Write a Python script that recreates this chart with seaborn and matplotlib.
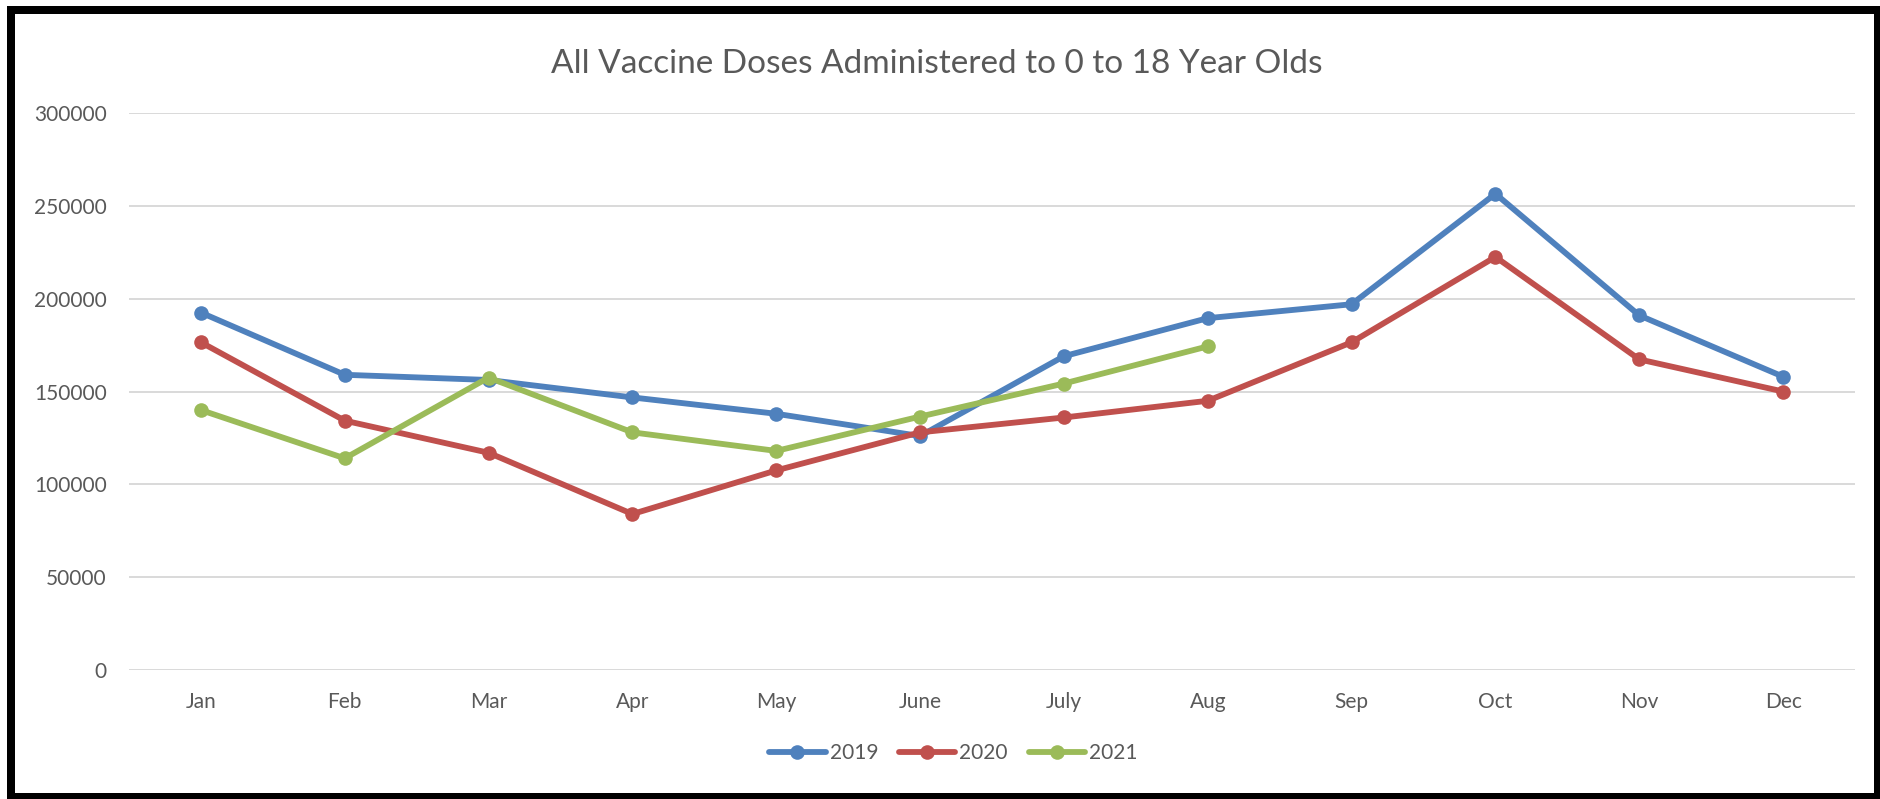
import numpy as np
import pandas as pd
import matplotlib
matplotlib.use("Agg")
import matplotlib.pyplot as plt
from matplotlib.patches import Rectangle
import seaborn as sns

months = ["Jan", "Feb", "Mar", "Apr", "May", "June", "July", "Aug", "Sep", "Oct", "Nov", "Dec"]
doses_2019 = [192500, 159000, 156200, 146800, 138000, 126000, 169000, 189500, 197000, 256500, 191000, 158000]
doses_2020 = [176500, 134300, 117000, 84000, 107500, 128000, 136000, 145000, 176500, 222500, 167300, 150000]
doses_2021 = [140000, 114000, 157500, 128000, 118000, 136500, 154300, 174300]
years = ["2019", "2020", "2021"]
colors = ["#4F81BD", "#C0504D", "#9BBB59"]

rows = []
for yr, vals in zip(years, [doses_2019, doses_2020, doses_2021]):
    for m, v in zip(months, vals):
        rows.append({"month": m, "doses": v, "year": yr})
df = pd.DataFrame(rows)

sns.set_theme(style="white")
plt.rcParams["font.family"] = ["Lato", "DejaVu Sans"]
text_color = "#595959"
lw = 4.2
ms = 10.5

fig = plt.figure(figsize=(18.8, 7.99), dpi=100)
ax = fig.add_axes([129 / 1880, 1 - 670 / 799, (1855 - 129) / 1880, (670 - 113) / 799])

sns.lineplot(data=df, x="month", y="doses", hue="year", palette=colors,
             marker="o", markersize=ms, markeredgewidth=0, linewidth=lw,
             sort=False, ax=ax, legend=False)

ax.set_xlim(-0.5, len(months) - 0.5)
ax.set_ylim(0, 300000)
ax.set_yticks(np.arange(0, 300001, 50000))
ax.set_yticklabels([str(v) for v in range(0, 300001, 50000)])
ax.set_xticks(range(len(months)))
ax.set_xticklabels(months)
ax.yaxis.grid(True, color="#D9D9D9", linewidth=1.4)
ax.xaxis.grid(False)
ax.set_axisbelow(True)
for s in ax.spines.values():
    s.set_visible(False)
ax.tick_params(axis="y", length=0, pad=16, labelsize=15, labelcolor=text_color)
ax.tick_params(axis="x", length=0, pad=16, labelsize=15, labelcolor=text_color)
ax.set_xlabel("")
ax.set_ylabel("")

fig.text(0.4984, 1 - 64 / 799, "All Vaccine Doses Administered to 0 to 18 Year Olds",
         ha="center", va="center", fontsize=24, color=text_color)

handles = [plt.Line2D([], [], color=c, linewidth=lw, marker="o", markersize=ms,
                      markeredgewidth=0) for c in colors]
fig.legend(handles, years, loc="center", bbox_to_anchor=(953.5 / 1880, 1 - 753 / 799),
           ncol=3, frameon=False, fontsize=15, handlelength=2.7, handletextpad=0.2,
           columnspacing=1.0, labelcolor=text_color)

# black frame around the whole figure
fig.patches.append(Rectangle((11 / 1880, 1 - 797 / 799), (1878 - 11) / 1880, (797 - 9.5) / 799,
                             transform=fig.transFigure, fill=False, edgecolor="black",
                             linewidth=8 * 0.72, zorder=10))

fig.savefig("out.png", dpi=100, facecolor="white")
